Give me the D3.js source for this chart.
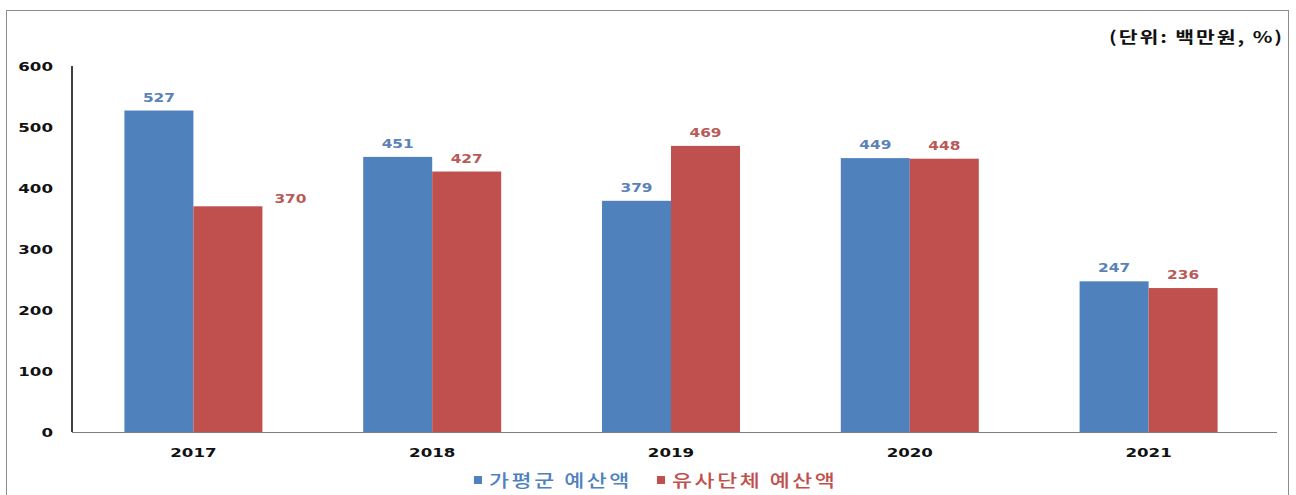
<!DOCTYPE html>
<meta charset="utf-8" />
<script src="https://d3js.org/d3.v7.min.js"></script>
<style>
  body { margin: 0; background: #fff; }
  text { font-family: "DejaVu Sans", sans-serif; }
</style>
<div id="chart"></div>
<script>
  // data
  const years = ["2017", "2018", "2019", "2020", "2021"];
  const gapyeong = [527, 451, 379, 449, 247];
  const similar = [370, 427, 469, 448, 236];
  const seriesNames = ["가평군 예산액", "유사단체 예산액"];
  const yTicks = [0, 100, 200, 300, 400, 500, 600];

  const W = 1296, H = 495;
  const sx = 1.28; // the picture is stretched sideways
  const colors = ["#4f81bd", "#c0504d"];
  const labelColors = ["#5b82b8", "#b85a58"];

  const svg = d3.select("#chart").append("svg")
    .attr("width", W).attr("height", H);

  // outer frame
  svg.append("rect")
    .attr("x", 6.5).attr("y", 10.5)
    .attr("width", 1282).attr("height", 500)
    .attr("fill", "none").attr("stroke", "#8c8c8c");

  const x = d3.scaleBand().domain(years).range([74, 1268]).paddingInner(0).paddingOuter(0);
  const x1 = d3.scaleBand().domain([0, 1]).range([x.bandwidth() / 2 - 69, x.bandwidth() / 2 + 69]);
  const y = d3.scaleLinear().domain([0, 600]).range([432, 66]);

  function stretched(sel, px, py) {
    return sel.attr("transform", `translate(${px},${py}) scale(${sx},1)`);
  }

  // y tick labels
  yTicks.forEach(t => {
    stretched(svg.append("text"), 53, y(t) + 5)
      .attr("text-anchor", "end")
      .style("font-size", "13px").style("font-weight", "bold")
      .attr("fill", "#111").text(t);
  });

  // bars
  const groups = svg.selectAll("g.year").data(years).join("g")
    .attr("class", "year")
    .attr("transform", d => `translate(${x(d)},0)`);

  const series = [gapyeong, similar];
  series.forEach((vals, s) => {
    groups.append("rect")
      .attr("x", x1(s))
      .attr("width", x1.bandwidth())
      .attr("y", (d, i) => y(vals[i]))
      .attr("height", (d, i) => y(0) - y(vals[i]))
      .attr("fill", colors[s]);
  });

  // value labels
  series.forEach((vals, s) => {
    years.forEach((yr, i) => {
      let px = x(yr) + x1(s) + x1.bandwidth() / 2;
      let py = y(vals[i]) - 9;
      if (s === 1 && i === 0) { // this one sits beside its bar
        px = x(yr) + x1(s) + x1.bandwidth() + 28;
        py = y(vals[i]) - 3;
      }
      stretched(svg.append("text"), px, py)
        .attr("text-anchor", "middle")
        .style("font-size", "12px").style("font-weight", "bold")
        .attr("fill", labelColors[s]).text(vals[i]);
    });
  });

  // axes lines
  svg.append("line").attr("x1", 72).attr("x2", 72).attr("y1", 66).attr("y2", 432)
    .attr("stroke", "#000").attr("stroke-width", 1.5);
  svg.append("line").attr("x1", 72).attr("x2", 1277).attr("y1", 432.5).attr("y2", 432.5)
    .attr("stroke", "#7f7f7f").attr("stroke-width", 1.2);

  // year labels
  years.forEach(yr => {
    stretched(svg.append("text"), x(yr) + x.bandwidth() / 2, 457)
      .attr("text-anchor", "middle")
      .style("font-size", "13px").style("font-weight", "bold")
      .attr("fill", "#111").text(yr);
  });

  // unit note
  stretched(svg.append("text"), 1284, 43)
    .attr("text-anchor", "end")
    .style("font-family", "'Noto Sans CJK KR', sans-serif")
    .style("font-size", "16px").style("font-weight", "bold")
    .style("letter-spacing", "1.5px")
    .attr("fill", "#111").text("(단위: 백만원, %)");

  // legend
  const legendX = [474, 657];
  seriesNames.forEach((name, s) => {
    svg.append("rect")
      .attr("x", legendX[s]).attr("y", 476)
      .attr("width", 8).attr("height", 8)
      .attr("fill", colors[s]);
    stretched(svg.append("text"), legendX[s] + 15, 487)
      .style("font-family", "'Noto Sans CJK KR', sans-serif")
      .style("font-size", "17px").style("font-weight", 500)
      .style("letter-spacing", "2px")
      .attr("fill", colors[s]).text(name);
  });
</script>
